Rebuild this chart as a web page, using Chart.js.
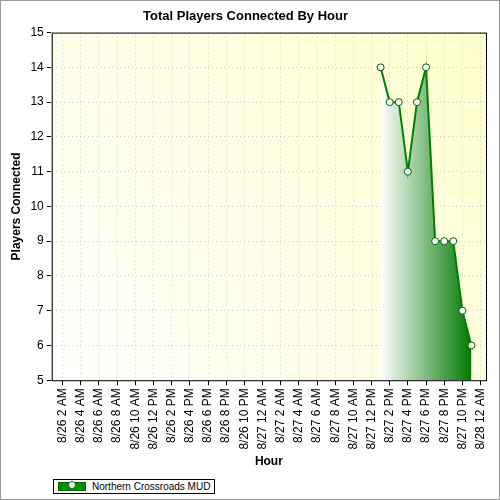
<!DOCTYPE html>
<html><head><meta charset="utf-8">
<script src="https://cdn.jsdelivr.net/npm/chart.js@4/dist/chart.umd.min.js"></script>
<style>
body{margin:0;background:#fff;}
#wrap{position:relative;width:498px;height:498px;border:1px solid #999;}
#leg{position:absolute;left:52px;top:478px;border:1px solid #000;font:10px "Liberation Sans",Arial;padding:1px 4px 1px 4px;display:flex;align-items:center;background:#fff;}
#leg span.sw{display:inline-block;width:26px;height:7px;background:#009000;border:1px solid #060;position:relative;margin-right:6px;}
#leg span.sw i{position:absolute;left:9px;top:-2px;width:6px;height:6px;border:1px solid #060;background:#fff;border-radius:50%;}
</style></head><body>
<div id="wrap"><canvas id="c" width="498" height="498"></canvas>
<div id="leg"><span class="sw"><i></i></span>Northern Crossroads MUD</div></div>
<script>
const tickHours=[2,4,6,8,10,12,14,16,18,20,22,24,26,28,30,32,34,36,38,40,42,44,46,48];
const tickLabels=["8/26 2 AM","8/26 4 AM","8/26 6 AM","8/26 8 AM","8/26 10 AM","8/26 12 PM","8/26 2 PM","8/26 4 PM","8/26 6 PM","8/26 8 PM","8/26 10 PM","8/27 12 AM","8/27 2 AM","8/27 4 AM","8/27 6 AM","8/27 8 AM","8/27 10 AM","8/27 12 PM","8/27 2 PM","8/27 4 PM","8/27 6 PM","8/27 8 PM","8/27 10 PM","8/28 12 AM"];
const hours=[37,38,39,40,41,42,43,44,45,46,47];
const players=[14,13,13,11,13,14,9,9,9,7,6];
const font="'Liberation Sans', Arial";
const bg={id:'bg',beforeDraw(ch){const a=ch.chartArea,c=ch.ctx;const g=c.createLinearGradient(a.left,a.bottom,a.right,a.top);g.addColorStop(0,'#ffffff');g.addColorStop(1,'#ffffcc');c.save();c.fillStyle=g;c.fillRect(a.left,a.top,a.right-a.left,a.bottom-a.top);c.restore();},
afterDraw(ch){const a=ch.chartArea,c=ch.ctx;c.save();c.strokeStyle='#000';c.lineWidth=1;c.strokeRect(a.left+0.5,a.top+0.5,a.right-a.left,a.bottom-a.top);c.restore();}};
new Chart(document.getElementById('c'),{type:'line',
data:{datasets:[{data:hours.map((h,i)=>({x:h,y:players[i]})),borderColor:'#008000',borderWidth:2,pointBackgroundColor:'#fff',pointBorderColor:'#006000',pointRadius:3.5,pointBorderWidth:1,tension:0,fill:'start',
backgroundColor(ctx){const ch=ctx.chart,a=ch.chartArea;if(!a)return '#080';const xs=ch.scales.x;const g=ch.ctx.createLinearGradient(xs.getPixelForValue(hours[0]),0,xs.getPixelForValue(hours[hours.length-1]),0);g.addColorStop(0,'#ffffff');g.addColorStop(1,'#007800');return g;}}]},
plugins:[bg],
options:{responsive:false,animation:false,layout:{padding:{left:4,right:13,top:0,bottom:26}},
plugins:{legend:{display:false},tooltip:{enabled:false},title:{display:true,text:'Total Players Connected By Hour',font:{family:font,size:13,weight:'bold'},color:'#000',padding:{top:8,bottom:8}}},
scales:{x:{type:'linear',min:0.8,max:48.6,afterBuildTicks(ax){ax.ticks=tickHours.map(v=>({value:v}));},
ticks:{autoSkip:false,maxRotation:90,minRotation:90,color:'#000',font:{family:font,size:12},callback:(v)=>tickLabels[tickHours.indexOf(v)]},
grid:{color:'#ccc',tickColor:'#000',tickLength:5,drawOnChartArea:true},border:{dash:[1,3]},
title:{display:true,text:'Hour',font:{family:font,size:12,weight:'bold'},color:'#000',padding:{top:2}}},
y:{min:5,max:15,ticks:{stepSize:1,color:'#000',font:{family:font,size:12}},grid:{color:'#ccc',tickColor:'#000',tickLength:5},border:{dash:[1,3]},
title:{display:true,text:'Players Connected',font:{family:font,size:12,weight:'bold'},color:'#000'}}}}});
</script></body></html>
